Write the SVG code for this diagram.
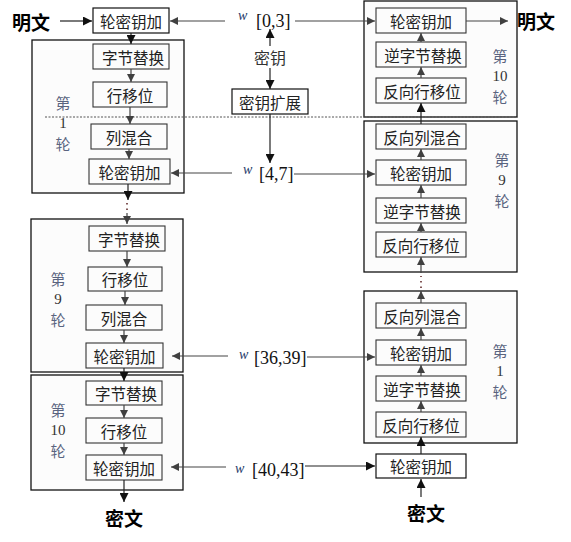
<svg xmlns="http://www.w3.org/2000/svg" width="571" height="542" viewBox="0 0 571 542">
<defs>
<marker id="ah" viewBox="0 0 10 10" refX="10" refY="5" markerWidth="9" markerHeight="9" markerUnits="userSpaceOnUse" orient="auto">
<path d="M0,0 L10,5 L0,10 Z" fill="#111"/>
</marker>
<marker id="ahg" viewBox="0 0 10 10" refX="10" refY="5" markerWidth="8" markerHeight="8" markerUnits="userSpaceOnUse" orient="auto">
<path d="M0,0 L10,5 L0,10 Z" fill="#404040"/>
</marker>
</defs>
<style>
.round{fill:#fcfcfc;stroke:#111;stroke-width:1.3}
.op{fill:#fcfcfc;stroke:#333;stroke-width:1.1}
.opw{fill:#fff;stroke:#111;stroke-width:1.2}
.t{font-family:"Noto Sans CJK SC","Noto Sans CJK JP",sans-serif;font-size:15.5px;fill:#222;text-anchor:middle;dominant-baseline:central}
.big{font-family:"Noto Sans CJK SC",sans-serif;font-size:19px;font-weight:bold;fill:#000;text-anchor:middle;dominant-baseline:central}
.lbl{font-family:"Noto Sans CJK SC",sans-serif;font-size:15px;fill:#5a6480;text-anchor:middle;dominant-baseline:central}
.num{font-family:"Liberation Serif",serif;font-size:15px;fill:#333;text-anchor:middle;dominant-baseline:central}
.w{font-family:"Liberation Serif",serif;font-size:14px;font-style:italic;fill:#1f3a6a}
.idx{font-family:"Liberation Serif",serif;font-size:18px;fill:#111}
.ln{stroke:#222;stroke-width:1.2;fill:none}
.lg{stroke:#444;stroke-width:1.2;fill:none}
.dot{stroke:#5a2020;stroke-width:1.5;stroke-dasharray:1.5 4;fill:none}
</style>

<!-- Encryption side -->
<g id="enc-plain"><text class="big" x="31" y="21">明文</text></g>
<g id="enc-ark0"><rect class="opw" x="93" y="8" width="76" height="25"/><text class="t" x="131" y="20.5">轮密钥加</text></g>

<g id="enc-r1">
<rect class="round" x="32" y="40" width="152" height="153"/>
<rect class="op" x="93" y="44" width="76" height="25"/><text class="t" x="133" y="56.5">字节替换</text>
<rect class="op" x="93" y="82" width="74" height="25"/><text class="t" x="130" y="94.5">行移位</text>
<rect class="op" x="91" y="124" width="76" height="25"/><text class="t" x="129" y="136.5">列混合</text>
<rect class="op" x="89" y="159" width="81" height="25"/><text class="t" x="129.5" y="171.5">轮密钥加</text>
<text class="lbl" x="63" y="102">第</text><text class="num" x="63" y="123">1</text><text class="lbl" x="63" y="143">轮</text>
</g>

<g id="enc-r9">
<rect class="round" x="31" y="219" width="152" height="153"/>
<rect class="op" x="89" y="226" width="76" height="25"/><text class="t" x="129" y="238.5">字节替换</text>
<rect class="op" x="88" y="267" width="74" height="24"/><text class="t" x="125" y="279">行移位</text>
<rect class="op" x="86" y="305" width="76" height="25"/><text class="t" x="124" y="317.5">列混合</text>
<rect class="op" x="86" y="343" width="77" height="25"/><text class="t" x="124.5" y="355.5">轮密钥加</text>
<text class="lbl" x="58" y="278">第</text><text class="num" x="58" y="299">9</text><text class="lbl" x="58" y="319">轮</text>
</g>

<g id="enc-r10">
<rect class="round" x="31" y="375" width="152" height="115"/>
<rect class="op" x="86" y="381" width="76" height="24"/><text class="t" x="126" y="393">字节替换</text>
<rect class="op" x="86" y="418" width="76" height="25"/><text class="t" x="124" y="430.5">行移位</text>
<rect class="op" x="86" y="455" width="76" height="25"/><text class="t" x="124" y="467.5">轮密钥加</text>
<text class="lbl" x="58" y="409">第</text><text class="num" x="58" y="430">10</text><text class="lbl" x="58" y="450">轮</text>
</g>

<g id="enc-cipher"><text class="big" x="124" y="517">密文</text></g>

<!-- Key schedule -->
<g id="key"><text class="t" x="270" y="57" style="font-size:16px;fill:#333">密钥</text></g>
<g id="keyexp"><rect class="opw" x="232" y="89" width="76" height="25"/><text class="t" x="270" y="101.5">密钥扩展</text></g>
<g id="w03"><text class="w" x="238" y="20">w</text><text class="idx" x="256" y="27">[0,3]</text></g>
<g id="w47"><text class="w" x="243" y="174">w</text><text class="idx" x="259" y="180">[4,7]</text></g>
<g id="w3639"><text class="w" x="239" y="359">w</text><text class="idx" x="254" y="364">[36,39]</text></g>
<g id="w4043"><text class="w" x="235" y="473">w</text><text class="idx" x="252" y="476">[40,43]</text></g>

<!-- Decryption side -->
<g id="dec-r10">
<rect class="round" x="364" y="1" width="153" height="116"/>
<rect class="op" x="376" y="8" width="90" height="25"/><text class="t" x="421" y="20.5">轮密钥加</text>
<rect class="op" x="376" y="42" width="90" height="25"/><text class="t" x="423" y="54.5">逆字节替换</text>
<rect class="op" x="376" y="78" width="90" height="25"/><text class="t" x="422" y="90.5">反向行移位</text>
<text class="lbl" x="500" y="55">第</text><text class="num" x="500" y="76">10</text><text class="lbl" x="500" y="96">轮</text>
</g>
<g id="dec-plain"><text class="big" x="536" y="20">明文</text></g>

<g id="dec-r9">
<rect class="round" x="364" y="121" width="153" height="151"/>
<rect class="op" x="376" y="124" width="90" height="25"/><text class="t" x="422" y="136.5">反向列混合</text>
<rect class="op" x="376" y="160" width="90" height="25"/><text class="t" x="421" y="172.5">轮密钥加</text>
<rect class="op" x="376" y="198" width="90" height="25"/><text class="t" x="422" y="210.5">逆字节替换</text>
<rect class="op" x="376" y="232" width="90" height="25"/><text class="t" x="421" y="244.5">反向行移位</text>
<text class="lbl" x="502" y="159">第</text><text class="num" x="502" y="180">9</text><text class="lbl" x="502" y="200">轮</text>
</g>

<g id="dec-r1">
<rect class="round" x="364" y="291" width="153" height="152"/>
<rect class="op" x="376" y="303" width="90" height="25"/><text class="t" x="422" y="315.5">反向列混合</text>
<rect class="op" x="376" y="340" width="90" height="25"/><text class="t" x="421" y="352.5">轮密钥加</text>
<rect class="op" x="376" y="376" width="90" height="25"/><text class="t" x="422" y="388.5">逆字节替换</text>
<rect class="op" x="376" y="412" width="90" height="25"/><text class="t" x="421" y="424.5">反向行移位</text>
<text class="lbl" x="500" y="350">第</text><text class="num" x="500" y="371">1</text><text class="lbl" x="500" y="391">轮</text>
</g>
<g id="dec-ark0"><rect class="opw" x="376" y="454" width="90" height="24"/><text class="t" x="421" y="466">轮密钥加</text></g>
<g id="dec-cipher"><text class="big" x="426" y="512">密文</text></g>

<!-- Connectors -->
<g id="connectors">
<!-- dashed separator -->
<line x1="45" y1="117" x2="518" y2="117" stroke="#555" stroke-width="1" stroke-dasharray="2 1.5"/>
<!-- encryption flow -->
<line class="ln" x1="60" y1="21" x2="92" y2="21" marker-end="url(#ah)"/>
<line class="ln" x1="131" y1="33" x2="131" y2="44" marker-end="url(#ah)"/>
<line class="lg" x1="131" y1="69" x2="131" y2="82" marker-end="url(#ahg)"/>
<line class="lg" x1="130" y1="107" x2="130" y2="124" marker-end="url(#ahg)"/>
<line class="lg" x1="129" y1="149" x2="129" y2="159" marker-end="url(#ahg)"/>
<line class="ln" x1="128" y1="184" x2="128" y2="200" marker-end="url(#ah)"/>
<line class="dot" x1="127" y1="203" x2="127" y2="214"/>
<line class="lg" x1="127" y1="213" x2="127" y2="224" marker-end="url(#ahg)"/>
<line class="lg" x1="127" y1="251" x2="127" y2="267" marker-end="url(#ahg)"/>
<line class="lg" x1="125" y1="291" x2="125" y2="305" marker-end="url(#ahg)"/>
<line class="lg" x1="124" y1="330" x2="124" y2="343" marker-end="url(#ahg)"/>
<line class="ln" x1="124" y1="368" x2="124" y2="381" marker-end="url(#ah)"/>
<line class="lg" x1="124" y1="405" x2="124" y2="418" marker-end="url(#ahg)"/>
<line class="lg" x1="124" y1="443" x2="124" y2="455" marker-end="url(#ahg)"/>
<line class="ln" x1="124" y1="480" x2="124" y2="502" marker-end="url(#ah)"/>
<!-- key schedule -->
<line class="ln" x1="270" y1="46" x2="270" y2="29" marker-end="url(#ah)"/>
<line class="ln" x1="270" y1="68" x2="270" y2="89" marker-end="url(#ah)"/>
<line class="ln" x1="270" y1="114" x2="270" y2="163" marker-end="url(#ah)"/>
<!-- round keys -->
<line class="lg" x1="225" y1="21" x2="170" y2="21" marker-end="url(#ahg)"/>
<line class="lg" x1="295" y1="21" x2="375" y2="21" marker-end="url(#ahg)"/>
<line class="lg" x1="232" y1="173" x2="171" y2="173" marker-end="url(#ahg)"/>
<line class="lg" x1="294" y1="174" x2="375" y2="174" marker-end="url(#ahg)"/>
<line class="lg" x1="228" y1="356" x2="172" y2="356" marker-end="url(#ahg)"/>
<line class="lg" x1="307" y1="357" x2="375" y2="357" marker-end="url(#ahg)"/>
<line class="lg" x1="226" y1="467" x2="171" y2="467" marker-end="url(#ahg)"/>
<line class="ln" x1="305" y1="466" x2="375" y2="466" marker-end="url(#ah)"/>
<!-- decryption flow -->
<line class="ln" x1="421" y1="497" x2="421" y2="479" marker-end="url(#ah)"/>
<line class="ln" x1="421" y1="454" x2="421" y2="437" marker-end="url(#ah)"/>
<line class="lg" x1="421" y1="412" x2="421" y2="401" marker-end="url(#ahg)"/>
<line class="lg" x1="421" y1="376" x2="421" y2="365" marker-end="url(#ahg)"/>
<line class="lg" x1="421" y1="340" x2="421" y2="328" marker-end="url(#ahg)"/>
<line class="lg" x1="421" y1="303" x2="421" y2="291" marker-end="url(#ahg)"/>
<line class="dot" x1="421" y1="288" x2="421" y2="276"/>
<line class="lg" x1="421" y1="273" x2="421" y2="257" marker-end="url(#ahg)"/>
<line class="lg" x1="421" y1="232" x2="421" y2="223" marker-end="url(#ahg)"/>
<line class="lg" x1="421" y1="198" x2="421" y2="185" marker-end="url(#ahg)"/>
<line class="lg" x1="421" y1="160" x2="421" y2="149" marker-end="url(#ahg)"/>
<line class="ln" x1="421" y1="124" x2="421" y2="103" marker-end="url(#ah)"/>
<line class="lg" x1="421" y1="78" x2="421" y2="67" marker-end="url(#ahg)"/>
<line class="lg" x1="421" y1="42" x2="421" y2="33" marker-end="url(#ahg)"/>
<line class="lg" x1="466" y1="21" x2="508" y2="21" marker-end="url(#ahg)"/>
</g>
</svg>
